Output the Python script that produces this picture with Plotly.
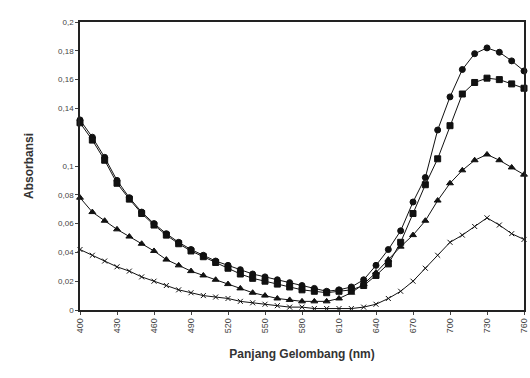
import plotly.graph_objects as go

wavelength = list(range(400, 761, 10))

series_circle = [0.132, 0.120, 0.106, 0.090, 0.078, 0.068, 0.060, 0.053, 0.047, 0.042,
                 0.038, 0.034, 0.031, 0.028, 0.025, 0.023, 0.021, 0.019, 0.017, 0.015,
                 0.013, 0.014, 0.016, 0.021, 0.031, 0.042, 0.055, 0.075, 0.092, 0.125,
                 0.148, 0.167, 0.178, 0.182, 0.179, 0.173, 0.166]
series_square = [0.130, 0.118, 0.104, 0.088, 0.077, 0.067, 0.059, 0.052, 0.046, 0.041,
                 0.037, 0.033, 0.029, 0.025, 0.022, 0.020, 0.018, 0.016, 0.014, 0.013,
                 0.012, 0.013, 0.014, 0.017, 0.024, 0.032, 0.047, 0.067, 0.087, 0.105,
                 0.128, 0.150, 0.158, 0.161, 0.160, 0.157, 0.154]
series_triangle = [0.078, 0.068, 0.062, 0.056, 0.051, 0.046, 0.041, 0.035, 0.031, 0.027,
                   0.024, 0.021, 0.018, 0.015, 0.012, 0.010, 0.008, 0.007, 0.006, 0.006,
                   0.006, 0.008, 0.012, 0.018, 0.026, 0.035, 0.044, 0.052, 0.062, 0.076,
                   0.088, 0.097, 0.104, 0.108, 0.104, 0.099, 0.094]
series_cross = [0.042, 0.038, 0.034, 0.030, 0.027, 0.023, 0.020, 0.017, 0.014, 0.012,
                0.010, 0.009, 0.008, 0.006, 0.005, 0.004, 0.003, 0.002, 0.002, 0.001,
                0.001, 0.001, 0.001, 0.002, 0.004, 0.008, 0.013, 0.020, 0.029, 0.038,
                0.047, 0.052, 0.058, 0.064, 0.059, 0.053, 0.049]

x_ticks = list(range(400, 761, 30))
y_tickvals = [0, 0.02, 0.04, 0.06, 0.08, 0.1, 0.14, 0.16, 0.18, 0.2]
y_ticktext = ["0", "0,02", "0,04", "0,06", "0,08", "0,1", "0,14", "0,16", "0,18", "0,2"]

fig = go.Figure()
styles = [
    (series_circle, "circle", 6),
    (series_square, "square", 6),
    (series_triangle, "triangle-up", 6),
    (series_cross, "x-thin", 5),
]
for vals, sym, size in styles:
    fig.add_trace(go.Scatter(
        x=wavelength, y=vals, mode="lines+markers",
        line=dict(color="#111", width=1),
        marker=dict(symbol=sym, size=size, color="#111",
                    line=dict(color="#111", width=1)),
        cliponaxis=False, showlegend=False,
    ))

fig.update_layout(
    width=530, height=378,
    margin=dict(l=80, r=6, t=22, b=68, autoexpand=False),
    paper_bgcolor="white", plot_bgcolor="white",
    font=dict(family="Liberation Sans, Arial, sans-serif", color="#222"),
)
fig.update_xaxes(
    range=[400, 760], tickvals=x_ticks, tickangle=-90,
    tickfont=dict(size=9, color="#444"),
    showline=True, linecolor="#222", linewidth=1.5, mirror=True,
    showgrid=False, zeroline=False, ticks="outside", ticklen=3, tickcolor="#444",
    automargin=False,
    title=dict(text="<b>Panjang Gelombang (nm)</b>", font=dict(size=12, color="#333"), standoff=17),
)
fig.update_yaxes(
    range=[0, 0.2], tickvals=y_tickvals, ticktext=y_ticktext,
    tickfont=dict(size=8, color="#444"),
    showline=True, linecolor="#222", linewidth=1.5, mirror=True,
    showgrid=False, zeroline=False, ticks="outside", ticklen=3, tickcolor="#444",
    automargin=False,
    title=dict(text="<b>Absorbansi</b>", font=dict(size=12, color="#333"), standoff=22),
)

fig.write_html(
    "out.html",
    config={"displayModeBar": False},
    post_script="document.body.style.margin='0';document.body.style.overflow='hidden';",
)
